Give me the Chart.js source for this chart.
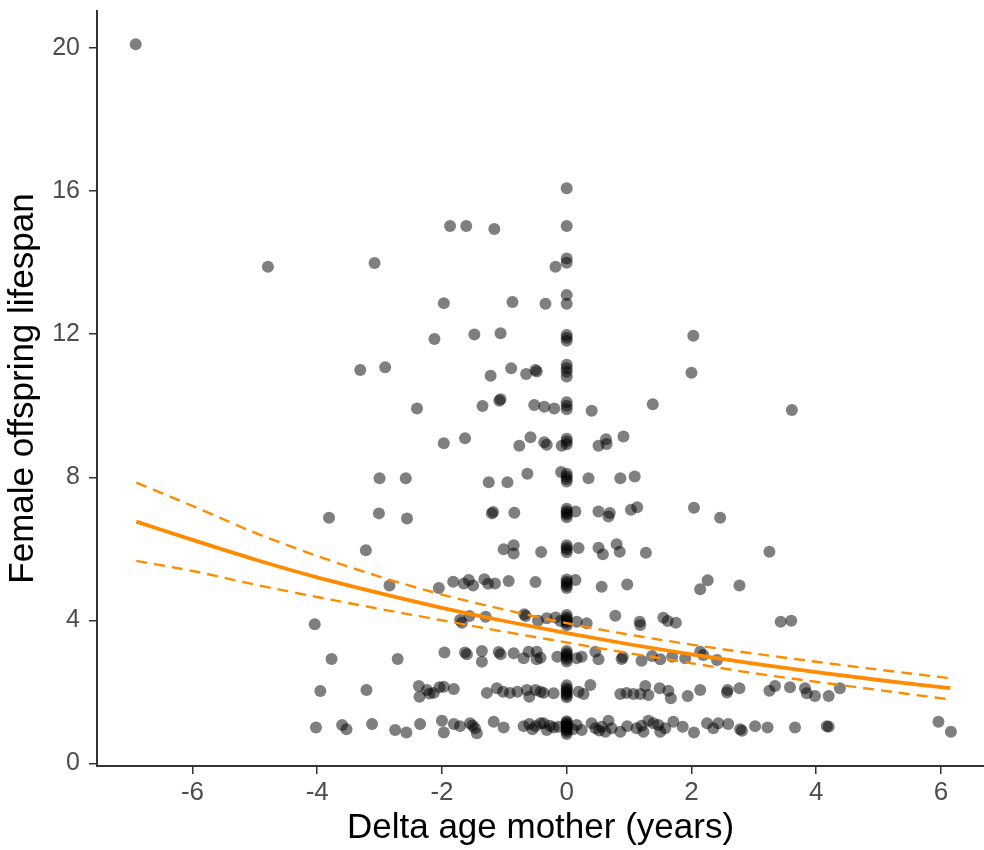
<!DOCTYPE html>
<html>
<head>
<meta charset="utf-8">
<script src="https://cdn.jsdelivr.net/npm/chart.js@4.4.1/dist/chart.umd.min.js"></script>
<style>
  html, body { margin: 0; padding: 0; background: #fff; }
</style>
</head>
<body>
<canvas id="lifespanChart" width="984" height="850"></canvas>
<script>
// observed offspring: [delta age mother, female offspring lifespan], by lifespan band
const band1 = [[-4.02,1.0],[-3.6,1.07],[-3.53,0.95],[-3.12,1.1],[-2.75,0.93],[-2.57,0.86],[-2.35,1.1],[-2.0,1.19],[-1.97,0.86],[-1.81,1.1],[-1.71,1.04],[-1.55,1.12],[-1.51,1.06],[-1.47,0.98],[-1.44,0.84],[-1.17,1.16],[-1.01,1.0],[-0.69,1.04],[-0.6,1.1],[-0.55,0.95],[-0.5,1.04],[-0.42,1.12],[-0.37,1.12],[-0.32,0.93],[-0.27,1.05],[-0.21,1.0],[-0.13,1.02],
  [0,0.82],[0,0.88],[0,0.93],[0,0.97],[0,1.0],[0,1.03],[0,1.07],[0,1.1],[0,1.14],[0,1.18],
  [0.1,0.95],[0.16,1.07],[0.24,0.93],[0.4,1.12],[0.46,0.98],[0.52,0.92],[0.56,1.02],[0.62,0.88],[0.67,1.19],[0.72,0.98],[0.86,0.88],[0.97,1.04],[1.12,0.98],[1.2,1.05],[1.23,0.88],[1.31,1.19],[1.39,1.12],[1.47,1.07],[1.5,0.88],[1.58,0.98],[1.71,1.16],[1.86,1.02],[2.04,0.86],[2.25,1.12],[2.35,0.98],[2.43,1.12],[2.59,1.1],[2.78,0.95],[2.81,0.91],[3.02,1.04],[3.22,1.0],[3.66,1.0],[4.17,1.04],[4.2,1.02],[5.96,1.16],[6.16,0.88]];
const band2 = [[-3.95,2.02],[-3.21,2.05],[-2.37,2.16],[-2.36,1.86],[-2.24,2.05],[-2.2,1.95],[-2.13,1.97],[-2.04,2.13],[-1.97,2.14],[-1.81,2.08],[-1.28,1.97],[-1.12,2.1],[-1.02,2.0],[-0.91,1.97],[-0.79,2.0],[-0.64,2.05],[-0.6,1.86],[-0.5,2.05],[-0.42,2.0],[-0.37,1.97],[-0.21,1.96],
  [0,1.85],[0,1.9],[0,1.95],[0,2.0],[0,2.05],[0,2.1],[0,2.18],
  [0.19,2.0],[0.27,1.94],[0.38,2.19],[0.86,1.94],[0.96,1.97],[1.07,1.94],[1.18,1.94],[1.26,2.16],[1.31,1.91],[1.49,2.1],[1.63,2.03],[1.67,1.82],[1.94,1.88],[2.14,2.05],[2.57,1.98],[2.58,2.05],[2.77,2.1],[3.25,2.03],[3.34,2.16],[3.58,2.13],[3.82,2.1],[3.85,1.96],[3.98,1.88],[4.2,1.88],[4.38,2.1]];
const band3 = [[-3.77,2.92],[-2.71,2.92],[-1.96,3.1],[-1.63,3.1],[-1.6,3.05],[-1.36,3.14],[-1.36,2.84],[-1.09,3.11],[-1.06,3.05],[-0.85,3.08],[-0.69,2.94],[-0.61,3.12],[-0.48,3.12],[-0.48,2.91],[-0.42,2.95],[-0.15,2.98],
  [0,2.85],[0,2.92],[0,2.98],[0,3.03],[0,3.08],[0,3.14],
  [0.16,2.94],[0.24,2.98],[0.46,3.12],[0.51,2.91],[0.88,2.92],[0.9,2.97],[1.2,2.87],[1.37,3.0],[1.5,2.91],[1.69,2.98],[1.9,2.94],[2.14,3.12],[2.19,3.03],[2.41,2.89]];
const band4 = [[-4.04,3.89],[-1.71,4.01],[-1.68,3.93],[-1.56,4.12],[-1.3,4.1],[-0.68,4.17],[-0.66,4.12],[-0.46,3.99],[-0.32,4.06],[-0.18,4.08],[-0.1,3.98],
  [0,3.86],[0,3.93],[0,3.98],[0,4.03],[0,4.08],[0,4.15],
  [0.16,3.96],[0.32,3.92],[0.78,4.13],[1.17,3.96],[1.18,3.87],[1.55,4.07],[1.62,3.98],[1.75,3.93],[3.43,3.96],[3.6,3.99]];
const band5 = [[-2.84,4.97],[-2.05,4.9],[-1.82,5.08],[-1.65,5.03],[-1.57,5.13],[-1.5,4.97],[-1.32,5.15],[-1.26,5.02],[-1.15,5.03],[-0.93,5.1],[-0.5,5.07],
  [0,4.9],[0,4.96],[0,5.02],[0,5.08],[0,5.14],
  [0.14,5.13],[0.56,4.94],[0.97,5.0],[2.14,4.87],[2.26,5.12],[2.77,4.97]];
const band6 = [[-3.22,5.96],[-1.01,5.99],[-0.85,6.1],[-0.85,5.87],[-0.41,5.91],
  [0,5.9],[0,5.97],[0,6.03],[0,6.1],
  [0.19,6.02],[0.51,6.03],[0.58,5.85],[0.8,6.13],[0.85,5.92],[1.27,5.89],[3.25,5.92]];
const band7 = [[-3.81,6.87],[-3.01,6.99],[-2.56,6.85],[-1.2,6.99],[-1.18,7.03],[-0.84,7.01],
  [0,6.88],[0,6.95],[0,7.0],[0,7.05],[0,7.12],
  [0.14,7.04],[0.51,7.04],[0.67,6.9],[0.69,7.0],[1.03,7.09],[1.13,7.16],[2.04,7.15],[2.46,6.87]];
const band8 = [[-3.0,7.97],[-2.58,7.97],[-1.25,7.86],[-0.95,7.86],[-0.63,8.1],[-0.09,8.15],
  [0,7.88],[0,7.95],[0,8.02],[0,8.1],
  [0.35,7.97],[0.86,7.97],[1.09,8.02]];
const band9 = [[-1.97,8.95],[-1.63,9.09],[-0.76,8.88],[-0.58,9.12],[-0.36,8.98],[-0.32,8.91],[-0.08,8.88],
  [0,8.92],[0,9.0],[0,9.08],
  [0.51,8.88],[0.63,9.06],[0.64,8.93],[0.91,9.14]];
const band10 = [[-2.4,9.92],[-1.35,9.99],[-1.08,10.14],[-1.06,10.18],[-0.52,10.02],[-0.36,9.97],[-0.2,9.92],
  [0,9.9],[0,10.0],[0,10.1],
  [0.4,9.86],[1.38,10.04],[3.61,9.88]];
const band11 = [[-3.31,11.0],[-2.91,11.08],[-1.22,10.84],[-0.89,11.05],[-0.65,10.89],[-0.5,11.0],[-0.48,10.96],
  [0,10.82],[0,10.95],[0,11.05],[0,11.15],
  [2.0,10.92]];
const band12 = [[-2.12,11.87],[-1.48,11.99],[-1.06,12.03],[0,11.82],[0,11.9],[0,11.98],[2.03,11.96]];
const bandHigh = [[-1.97,12.87],[-0.87,12.9],[-0.34,12.85],[0,12.85],[0,13.1],
  [-4.79,13.89],[-3.08,13.99],[-0.18,13.89],[0,14.0],[0,14.12],
  [-1.87,15.03],[-1.61,15.03],[-1.16,14.94],[0,15.03],[0,16.08],[-6.91,20.11]];

// fitted curve with 95% band
const fitAge   = [-6.9, -6, -5, -4, -3, -2, -1, 0, 1, 2, 3, 4, 5, 6, 6.15];
const fitMean  = [6.76, 6.25, 5.7, 5.2, 4.76, 4.35, 3.98, 3.64, 3.33, 3.05, 2.79, 2.55, 2.33, 2.13, 2.10];
const fitUpper = [7.85, 7.2, 6.45, 5.8, 5.22, 4.72, 4.3, 3.92, 3.6, 3.32, 3.07, 2.84, 2.62, 2.41, 2.38];
const fitLower = [5.66, 5.38, 5.0, 4.65, 4.32, 4.0, 3.68, 3.38, 3.08, 2.8, 2.52, 2.28, 2.05, 1.82, 1.79];

const xTicks = [-6, -4, -2, 0, 2, 4, 6];
const yTicks = [0, 4, 8, 12, 16, 20];

const allBands = [band1, band2, band3, band4, band5, band6, band7, band8, band9, band10, band11, band12, bandHigh];
const points = [];
allBands.forEach(b => b.forEach(p => points.push({x: p[0], y: p[1]})));

function curve(vals) {
    return fitAge.map((a, i) => ({x: a, y: vals[i]}));
}

const orange = '#FF8C00';
const axisGrey = '#333333';
const fontFamily = '"Liberation Sans", Arial, sans-serif';

const ctx = document.getElementById('lifespanChart').getContext('2d');
new Chart(ctx, {
    type: 'scatter',
    data: {
        datasets: [
            {
                data: curve(fitMean), showLine: true, borderColor: orange, borderWidth: 3.8,
                pointRadius: 0, fill: false, cubicInterpolationMode: 'monotone', order: 1
            },
            {
                data: curve(fitUpper), showLine: true, borderColor: orange, borderWidth: 2.4,
                borderDash: [11, 7], pointRadius: 0, fill: false, cubicInterpolationMode: 'monotone', order: 1
            },
            {
                data: curve(fitLower), showLine: true, borderColor: orange, borderWidth: 2.4,
                borderDash: [11, 7], pointRadius: 0, fill: false, cubicInterpolationMode: 'monotone', order: 1
            },
            {
                data: points, backgroundColor: 'rgba(0,0,0,0.5)', borderWidth: 0,
                pointRadius: 6, pointHoverRadius: 6, order: 2
            }
        ]
    },
    options: {
        responsive: false,
        animation: false,
        layout: { autoPadding: false, padding: { top: 11, right: 0, left: 0, bottom: 0 } },
        plugins: { legend: { display: false }, tooltip: { enabled: false } },
        scales: {
            x: {
                type: 'linear',
                min: -7.53, max: 6.69,
                afterBuildTicks: s => { s.ticks = xTicks.map(v => ({value: v})); },
                afterFit: s => { s.height = 84; s.paddingLeft = 0; s.paddingRight = 0; },
                border: { display: true, color: axisGrey, width: 2 },
                grid: { drawOnChartArea: false, drawTicks: true, tickLength: 8, color: axisGrey, lineWidth: 1.5 },
                ticks: { color: '#4D4D4D', padding: 3, font: { family: fontFamily, size: 26 } },
                title: {
                    display: true, text: 'Delta age mother (years)', color: '#000',
                    font: { family: fontFamily, size: 35, lineHeight: 1 }, padding: { top: 0, bottom: 4 }
                }
            },
            y: {
                type: 'linear',
                min: -0.075, max: 21.04,
                afterBuildTicks: s => { s.ticks = yTicks.map(v => ({value: v})); },
                afterFit: s => { s.width = 97; s.paddingTop = 0; s.paddingBottom = 0; },
                border: { display: true, color: axisGrey, width: 2 },
                grid: { drawOnChartArea: false, drawTicks: true, tickLength: 8, color: axisGrey, lineWidth: 1.5 },
                ticks: { color: '#4D4D4D', padding: 9, font: { family: fontFamily, size: 25 } },
                title: {
                    display: true, text: 'Female offspring lifespan', color: '#000',
                    font: { family: fontFamily, size: 35, lineHeight: 1 }, padding: { top: 6, bottom: 0 }
                }
            }
        }
    }
});
</script>
</body>
</html>
